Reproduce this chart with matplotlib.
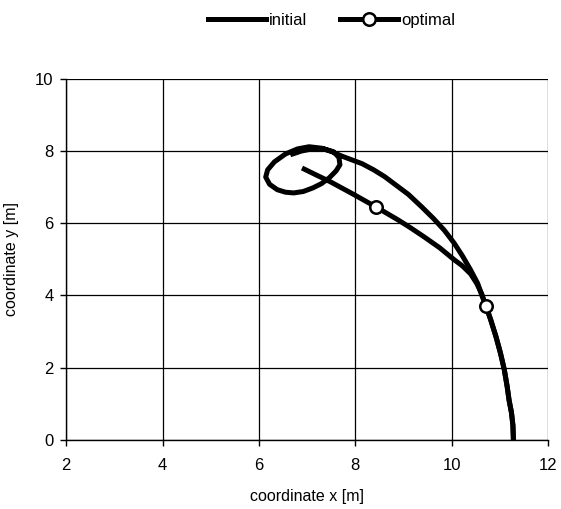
import matplotlib.pyplot as plt

plt.rcParams['font.family'] = ['Liberation Sans', 'DejaVu Sans']

# trajectory points [m]
initial_x = [11.28, 11.27, 11.24, 11.19, 11.15, 11.09, 11.01, 10.92, 10.81, 10.71,
             10.62, 10.54, 10.39, 10.22, 10.05, 9.85, 9.63, 9.38, 9.10, 8.85,
             8.61, 8.38, 8.14, 7.92, 7.72, 7.52, 7.30, 7.04, 6.80, 6.55,
             6.32, 6.18, 6.14, 6.22, 6.38, 6.55, 6.72, 6.92, 7.12, 7.30,
             7.46, 7.60, 7.68, 7.66, 7.55, 7.35, 7.10, 6.88, 6.70]
initial_y = [0.00, 0.40, 0.75, 1.10, 1.48, 1.95, 2.41, 2.85, 3.32, 3.71,
             4.02, 4.33, 4.71, 5.10, 5.45, 5.80, 6.12, 6.45, 6.80, 7.05,
             7.29, 7.48, 7.65, 7.76, 7.86, 7.98, 8.08, 8.12, 8.06, 7.92,
             7.70, 7.48, 7.28, 7.08, 6.93, 6.86, 6.84, 6.88, 6.98, 7.10,
             7.26, 7.45, 7.62, 7.82, 7.98, 8.06, 8.06, 8.00, 7.92]

optimal_x = [11.28, 11.27, 11.24, 11.19, 11.15, 11.09, 11.01, 10.92, 10.81, 10.71,
             10.62, 10.52, 10.39, 10.22, 10.05, 9.75, 9.43, 9.15, 8.89, 8.43,
             7.95, 7.48, 7.20, 6.94]
optimal_y = [0.00, 0.40, 0.75, 1.10, 1.48, 1.95, 2.41, 2.85, 3.32, 3.71,
             4.05, 4.33, 4.60, 4.82, 4.99, 5.32, 5.62, 5.87, 6.09, 6.45,
             6.81, 7.15, 7.33, 7.50]
optimal_marks = [9, 19]

x_ticks = [2, 4, 6, 8, 10, 12]
y_ticks = [0, 2, 4, 6, 8, 10]

fig = plt.figure(figsize=(5.61, 5.09), dpi=100)
ax = fig.add_axes([0.118, 0.136, 0.859, 0.709])

ax.plot(initial_x, initial_y, color='black', linewidth=3.6,
        solid_joinstyle='round', label='initial')
ax.plot(optimal_x, optimal_y, color='black', linewidth=3.6,
        solid_joinstyle='round', marker='o', markersize=9,
        markerfacecolor='white', markeredgecolor='black', markeredgewidth=1.8,
        markevery=optimal_marks, label='optimal')

ax.set_xlim(2, 12)
ax.set_ylim(0, 10)
ax.set_xticks(x_ticks)
ax.set_yticks(y_ticks)
ax.grid(True, color='black', linewidth=0.9)
ax.set_axisbelow(True)
for side in ['left', 'bottom']:
    ax.spines[side].set_linewidth(1.0)
for side in ['top', 'right']:
    ax.spines[side].set_visible(False)
ax.tick_params(axis='x', direction='out', length=4, width=1, labelsize=12, pad=9)
ax.tick_params(axis='y', direction='out', length=4, width=1, labelsize=12, pad=5)

ax.set_xlabel('coordinate x [m]', fontsize=11.5, labelpad=12)
ax.set_ylabel('coordinate y [m]', fontsize=11.5, labelpad=12)

ax.legend(loc='lower center', bbox_to_anchor=(0.55, 1.1), ncol=2, frameon=False,
          fontsize=12, handlelength=3.5, handletextpad=0.15, columnspacing=2.0)

fig.savefig('out.png', dpi=100)
